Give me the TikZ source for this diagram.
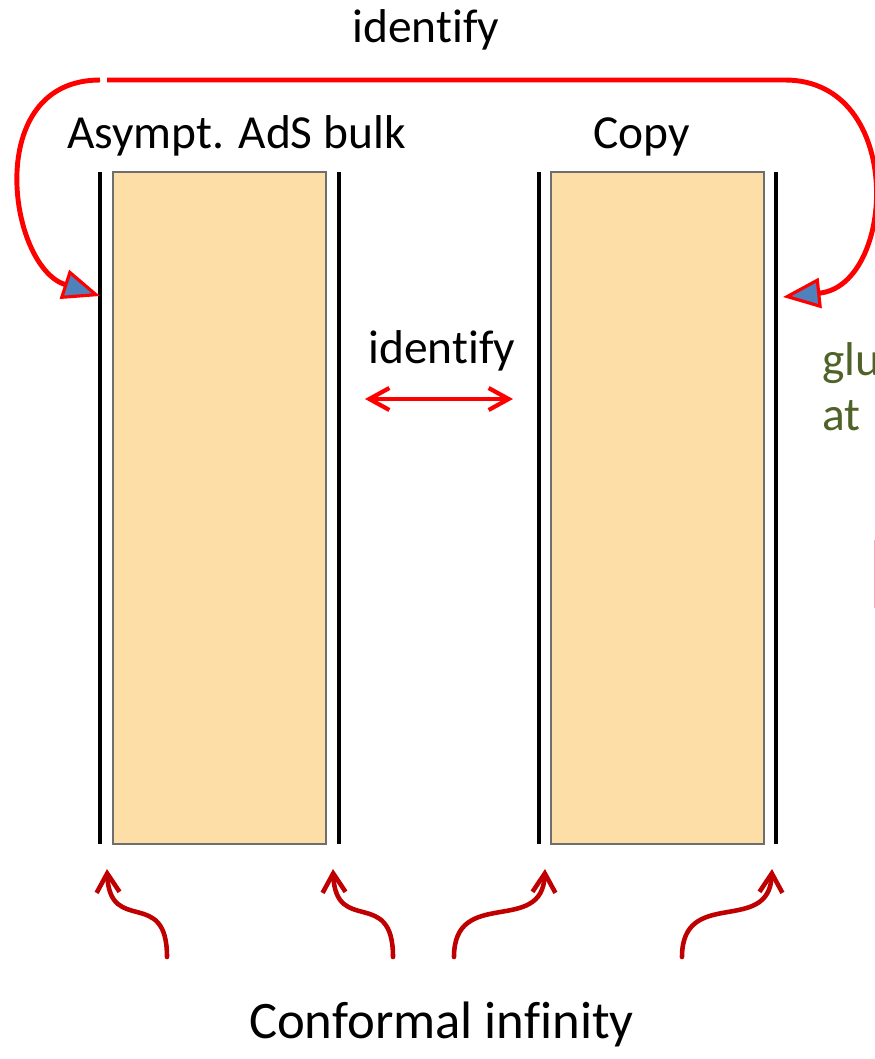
\documentclass[tikz,border=0pt]{standalone}
\usepackage{fontspec}
\setmainfont{Carlito}[Ligatures=NoCommon]
\usetikzlibrary{arrows.meta}
\definecolor{bulkfill}{RGB}{253,222,167}
\definecolor{bulkedge}{RGB}{110,110,110}
\definecolor{idred}{RGB}{255,0,0}
\definecolor{cired}{RGB}{192,0,0}
\definecolor{tipblue}{RGB}{79,129,189}
\definecolor{gluegreen}{RGB}{79,98,40}
\definecolor{edgepink}{RGB}{240,170,180}

\begin{document}
\begin{tikzpicture}[
    x=0.02cm, y=-0.02cm,
    bdry/.style={draw=black, line width=2.8pt},
    bulk/.style={rectangle, draw=bulkedge, fill=bulkfill, line width=0.8pt, minimum width=4.26cm, minimum height=13.44cm, inner sep=0pt},
    ident/.style={draw=idred, line width=2.8pt, -{Triangle[length=7.5mm, width=6mm, line width=1.8pt, fill=tipblue]}},
    swap/.style={draw=idred, line width=2.4pt, line cap=round, {Straight Barb[length=4mm, width=4.4mm]}-{Straight Barb[length=4mm, width=4.4mm]}},
    infty/.style={draw=cired, line width=2.6pt, line cap=round, -{Straight Barb[length=3.8mm, width=4.6mm]}},
    lbl/.style={font=\fontsize{27}{32}\selectfont, inner sep=0pt, anchor=base},
    big/.style={font=\fontsize{30}{36}\selectfont, inner sep=0pt, anchor=base},
  ]

  \useasboundingbox (0,0) rectangle (875,1059);

  % the bulk and its copy
  \node[bulk] (bulk) at (219.5,508) {};
  \node[bulk] (copy) at (657.5,508) {};
  \draw[bdry] (100,172) -- (100,844);
  \draw[bdry] (339,172) -- (339,844);
  \draw[bdry] (539,172) -- (539,844);
  \draw[bdry] (776,172) -- (776,844);

  \node[lbl] (bulklbl) at (236.5,148) {Asympt. AdS bulk};
  \node[lbl] (copylbl) at (641.5,148) {Copy};

  % outer identification
  \coordinate (topL) at (100,80);
  \coordinate (topR) at (107,80);
  \coordinate (bndA) at (100,296);
  \coordinate (bndD) at (783,297);
  \node[lbl] (idtop) at (426,42) {identify};
  \draw[ident] (topL) .. controls (-18,80) and (8,266) .. (bndA);
  \draw[ident] (topR) -- (785,80) .. controls (906,80) and (896,285) .. (bndD);

  % inner identification
  \node[lbl] (idmid) at (442,363) {identify};
  \coordinate (swapL) at (365,399);
  \coordinate (swapR) at (513,399);
  \draw[swap] (swapL) -- (swapR);

  % text running off the right edge
  \node[lbl, anchor=base west, text=gluegreen] (glue) at (822,375) {glue};
  \node[lbl, anchor=base west, text=gluegreen] (at) at (822,430) {at};
  \draw[edgepink, line width=0.5pt] (874.5,540) -- (874.5,608);

  % conformal infinity
  \node[big] (conf) at (441.5,1038) {Conformal infinity};
  \coordinate (ciA) at (167,957);
  \coordinate (ciB) at (393,957);
  \coordinate (ciC) at (454,957);
  \coordinate (ciD) at (682,957);
  \coordinate (tipA) at (107,869);
  \coordinate (tipB) at (333,869);
  \coordinate (tipC) at (545,869);
  \coordinate (tipD) at (772,869);
  \draw[infty] (ciA) .. controls (167,886) and (110,936) .. (tipA);
  \draw[infty] (ciB) .. controls (393,886) and (336,936) .. (tipB);
  \draw[infty] (ciC) .. controls (454,886) and (542,936) .. (tipC);
  \draw[infty] (ciD) .. controls (682,886) and (769,936) .. (tipD);

\end{tikzpicture}
\end{document}
